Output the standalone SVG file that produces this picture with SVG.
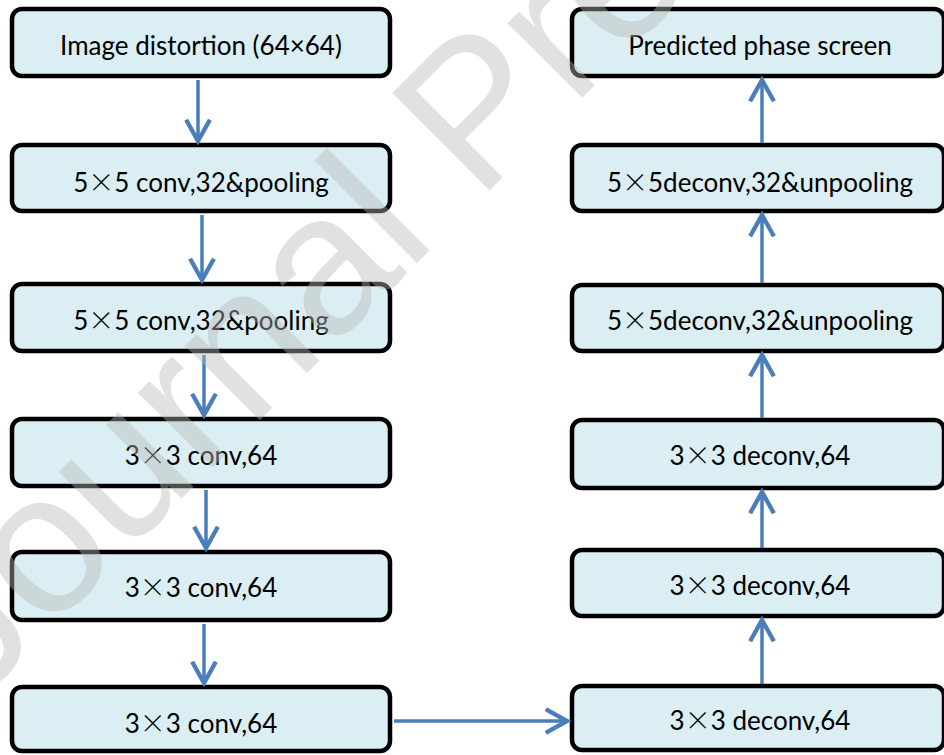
<svg xmlns="http://www.w3.org/2000/svg" width="944" height="755" viewBox="0 0 944 755">
<defs>
<style>
.box rect{fill:#DBEEF4;stroke:#000;stroke-width:4.5}
.box text{font-family:Lato,"Liberation Sans",sans-serif;font-size:26px;fill:#000;text-anchor:middle}
.x{font-family:"Noto Sans CJK SC",sans-serif;font-weight:300}
.conn line{stroke:#4A7EBB;stroke-width:3.5;marker-end:url(#ah)}
.wm{font-family:"Liberation Sans",Arial,sans-serif;font-size:200px;fill:#b8b8b8;opacity:0.42}
</style>
<marker id="ah" markerUnits="userSpaceOnUse" markerWidth="30" markerHeight="30" viewBox="-20 -12 24 24" refX="0" refY="0" orient="auto">
<path d="M-17,-9.5 L0,0 L-17,9.5" fill="none" stroke="#4A7EBB" stroke-width="3.5"/>
</marker>
</defs>
<rect width="944" height="755" fill="#fff"/>
<g id="n1" class="box"><rect x="12" y="9" width="378" height="67" rx="10"/><text x="201" y="55">Image distortion (64×64)</text></g>
<g id="n2" class="box"><rect x="12" y="145" width="378" height="66" rx="10"/><text x="201" y="192">5<tspan class="x">×</tspan>5 conv,32&amp;pooling</text></g>
<g id="n3" class="box"><rect x="12" y="284" width="378" height="67" rx="10"/><text x="201" y="330">5<tspan class="x">×</tspan>5 conv,32&amp;pooling</text></g>
<g id="n4" class="box"><rect x="12" y="419" width="378" height="67" rx="10"/><text x="201" y="465">3<tspan class="x">×</tspan>3 conv,64</text></g>
<g id="n5" class="box"><rect x="12" y="552" width="378" height="68" rx="10"/><text x="201" y="597">3<tspan class="x">×</tspan>3 conv,64</text></g>
<g id="n6" class="box"><rect x="12" y="687" width="378" height="64" rx="10"/><text x="201" y="733">3<tspan class="x">×</tspan>3 conv,64</text></g>
<g id="n7" class="box"><rect x="572" y="9" width="372" height="67" rx="10"/><text x="760" y="55">Predicted phase screen</text></g>
<g id="n8" class="box"><rect x="572" y="145" width="372" height="66" rx="10"/><text x="760" y="192">5<tspan class="x">×</tspan>5deconv,32&amp;unpooling</text></g>
<g id="n9" class="box"><rect x="572" y="285" width="372" height="66" rx="10"/><text x="760" y="330">5<tspan class="x">×</tspan>5deconv,32&amp;unpooling</text></g>
<g id="n10" class="box"><rect x="572" y="420" width="372" height="68" rx="10"/><text x="760" y="465">3<tspan class="x">×</tspan>3 deconv,64</text></g>
<g id="n11" class="box"><rect x="572" y="550" width="372" height="66" rx="10"/><text x="760" y="595">3<tspan class="x">×</tspan>3 deconv,64</text></g>
<g id="n12" class="box"><rect x="572" y="686" width="372" height="64" rx="10"/><text x="760" y="730">3<tspan class="x">×</tspan>3 deconv,64</text></g>
<g id="connectors" class="conn">
<line x1="198" y1="80" x2="198" y2="141"/>
<line x1="202" y1="215" x2="202" y2="280"/>
<line x1="204" y1="355" x2="204" y2="415"/>
<line x1="206" y1="490" x2="206" y2="548"/>
<line x1="204" y1="624" x2="204" y2="683"/>
<line x1="394" y1="721" x2="567" y2="721"/>
<line x1="762" y1="684" x2="762" y2="620"/>
<line x1="762" y1="548" x2="762" y2="492"/>
<line x1="762" y1="418" x2="762" y2="355"/>
<line x1="762" y1="283" x2="762" y2="215"/>
<line x1="762" y1="143" x2="762" y2="80"/>
</g>
<text class="wm" transform="translate(-25,705) rotate(-45)">Journal Pre-proof</text>
</svg>
